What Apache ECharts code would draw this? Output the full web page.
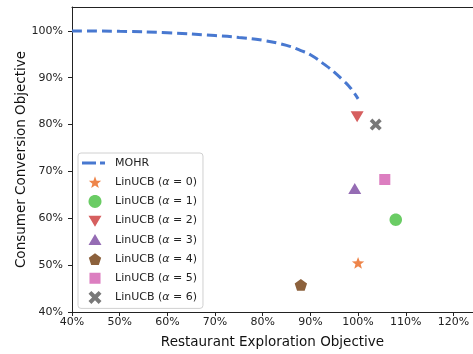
<!DOCTYPE html>
<html><head><meta charset="utf-8">
<script src="https://cdn.jsdelivr.net/npm/echarts@6/dist/echarts.min.js"></script>
<style>html,body{margin:0;padding:0;background:#fff}#c{width:473px;height:354px}</style>
</head><body><div id="c"></div>
<script>
// MOHR Pareto curve (x = exploration %, y = conversion %)
const mohrX = [40, 50, 60, 70, 75, 80, 85, 88, 90, 93, 95, 97, 98, 99, 100];
const mohrY = [100.0, 99.9, 99.6, 99.0, 98.6, 98.0, 96.9, 95.8, 94.9, 92.8, 91.2, 89.3, 88.3, 87.0, 85.5];
// LinUCB points
const linNames = ['LinUCB (α = 0)', 'LinUCB (α = 1)', 'LinUCB (α = 2)', 'LinUCB (α = 3)', 'LinUCB (α = 4)', 'LinUCB (α = 5)', 'LinUCB (α = 6)'];
const linX = [100.0, 107.9, 99.8, 99.3, 88.0, 105.6, 103.7];
const linY = [50.5, 59.7, 81.8, 66.3, 45.8, 68.3, 80.0];
const xTicks = [40, 50, 60, 70, 80, 90, 100, 110, 120];
const yTicks = [40, 50, 60, 70, 80, 90, 100];

const colors = ['#ee854a', '#6acc64', '#d65f5f', '#956cb4', '#8c613c', '#dc7ec0', '#797979'];

// marker shapes as polygons in unit coords (-1..1, y down)
function starPts() {
  const p = [];
  for (let k = 0; k < 10; k++) {
    const r = k % 2 === 0 ? 1 : 0.42;
    const a = -Math.PI / 2 + k * Math.PI / 5;
    p.push([r * Math.cos(a), r * Math.sin(a) + 0.1]);
  }
  return p;
}
function pentPts() {
  const p = [];
  for (let k = 0; k < 5; k++) {
    const a = -Math.PI / 2 + k * 2 * Math.PI / 5;
    p.push([Math.cos(a), Math.sin(a) + 0.1]);
  }
  return p;
}
function circPts() {
  const p = [];
  for (let k = 0; k < 32; k++) { const a = k * Math.PI / 16; p.push([Math.cos(a), Math.sin(a)]); }
  return p;
}
const shapes = [
  starPts(),
  circPts(),
  [[-1, -0.75], [1, -0.75], [0, 0.95]],
  [[-1, 0.8], [1, 0.8], [0, -0.9]],
  pentPts(),
  [[-0.85, -0.85], [0.85, -0.85], [0.85, 0.85], [-0.85, 0.85]],
  [[-0.56, -1], [0, -0.44], [0.56, -1], [1, -0.56], [0.44, 0], [1, 0.56], [0.56, 1], [0, 0.44], [-0.56, 1], [-1, 0.56], [-0.44, 0], [-1, -0.56]]
];
const sizes = [13, 12.5, 13, 13, 13, 13, 12];
const f = v => v.toFixed(2);
// symbol path: fixed bounding box -1..1 (corner dots keep the box)
function symPath(pts) {
  const s = 50;
  let d = 'M' + pts.map(q => f(50 + q[0] * s) + ',' + f(50 + q[1] * s)).join(' L') + ' Z';
  d += ' M0,0 L0.01,0 L0.01,0.01 Z M100,100 L99.99,100 L99.99,99.99 Z';
  return 'path://' + d;
}
// legend icon path: 23x14 box, marker centered at x=13
function iconPath(pts, sz) {
  const h = sz / 2;
  let d = 'M' + pts.map(q => f(13 + q[0] * h) + ',' + f(7 + q[1] * h)).join(' L') + ' Z';
  d += ' M0,0 L0.01,0 L0.01,0.01 Z M23,14 L22.99,14 L22.99,13.99 Z';
  return 'path://' + d;
}
const dashIcon = 'path://M0,5.6 L14,5.6 L14,8.4 L0,8.4 Z M18,5.6 L23,5.6 L23,8.4 L18,8.4 Z M0,0 L0.01,0 L0.01,0.01 Z M23,14 L22.99,14 L22.99,13.99 Z';

const series = [{
  name: 'MOHR', type: 'line', smooth: true, symbol: 'none', showSymbol: false,
  data: mohrX.map((x, i) => [x, mohrY[i]]),
  lineStyle: { color: '#4878d0', width: 3, type: [10, 5] },
  itemStyle: { color: '#4878d0' }, z: 2
}];
linNames.forEach((n, i) => {
  series.push({
    name: n, type: 'scatter', symbol: symPath(shapes[i]), symbolSize: sizes[i],
    data: [[linX[i], linY[i]]], itemStyle: { color: colors[i], opacity: 1 }, z: 3
  });
});

const legendData = [{ name: 'MOHR', icon: dashIcon, itemStyle: { color: '#4878d0' } }]
  .concat(linNames.map((n, i) => ({ name: n, icon: iconPath(shapes[i], 13) })));

const font = 'DejaVu Sans';
const chart = echarts.init(document.getElementById('c'), null, { renderer: 'canvas' });
chart.setOption({
  animation: false,
  grid: { left: 72, top: 7, right: 0, bottom: 42, containLabel: false, outerBoundsMode: 'none' },
  xAxis: [{
    type: 'value', min: 40, max: 124.1, position: 'bottom',
    name: 'Restaurant Exploration Objective', nameLocation: 'middle', nameGap: 23, nameMoveOverlap: false,
    nameTextStyle: { fontFamily: font, fontSize: 13.5, color: '#111' },
    axisLine: { show: true, onZero: false, lineStyle: { color: '#222', width: 1 } },
    axisTick: { show: true, length: 4, lineStyle: { color: '#222' }, customValues: xTicks },
    axisLabel: { fontFamily: font, fontSize: 11, color: '#222', margin: 5, formatter: v => v + '%', customValues: xTicks },
    splitLine: { show: false }
  }, {
    type: 'value', min: 40, max: 124.1, position: 'top',
    axisLine: { show: true, onZero: false, lineStyle: { color: '#222', width: 1 } },
    axisTick: { show: false }, axisLabel: { show: false }, splitLine: { show: false }
  }],
  yAxis: {
    type: 'value', min: 40, max: 105.1,
    name: 'Consumer Conversion Objective', nameLocation: 'middle', nameGap: 44, nameMoveOverlap: false,
    nameTextStyle: { fontFamily: font, fontSize: 13.5, color: '#111' },
    axisLine: { show: true, onZero: false, lineStyle: { color: '#222', width: 1 } },
    axisTick: { show: true, length: 4, lineStyle: { color: '#222' }, customValues: yTicks },
    axisLabel: { fontFamily: font, fontSize: 11, color: '#222', margin: 9, formatter: v => v + '%', customValues: yTicks },
    splitLine: { show: false }
  },
  legend: {
    orient: 'vertical', left: 78, top: 153,
    backgroundColor: 'rgba(255,255,255,0.85)', borderColor: '#d0d0d0', borderWidth: 1, borderRadius: 3,
    padding: [3, 6, 4, 4], itemWidth: 23, itemHeight: 14, itemGap: 5.2,
    data: legendData,
    formatter: n => n.replace('α', '{i|α}'),
    textStyle: {
      fontFamily: font, fontSize: 11, color: '#222', padding: [0, 0, 0, 5],
      rich: { i: { fontFamily: font, fontSize: 11, fontStyle: 'italic', color: '#222' } }
    }
  },
  series: series
});
</script></body></html>
